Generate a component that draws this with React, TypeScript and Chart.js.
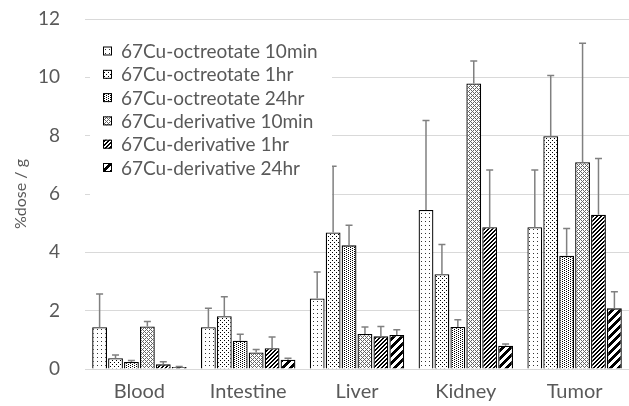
import React, { useEffect, useRef } from "react";
import { Chart, registerables } from "chart.js";

Chart.register(...registerables);

const categories = ["Blood", "Intestine", "Liver", "Kidney", "Tumor"];
const seriesLabels = [
  "67Cu-octreotate 10min",
  "67Cu-octreotate 1hr",
  "67Cu-octreotate 24hr",
  "67Cu-derivative 10min",
  "67Cu-derivative 1hr",
  "67Cu-derivative 24hr",
];
const oct10 = [1.43, 1.43, 2.42, 5.45, 4.86];
const oct10Err = [1.14, 0.65, 0.91, 3.07, 1.96];
const oct1h = [0.37, 1.81, 4.68, 3.25, 7.98];
const oct1hErr = [0.11, 0.67, 2.27, 1.02, 2.08];
const oct24 = [0.24, 0.97, 4.24, 1.44, 3.88];
const oct24Err = [0.05, 0.22, 0.69, 0.25, 0.94];
const der10 = [1.46, 0.57, 1.2, 9.79, 7.09];
const der10Err = [0.17, 0.1, 0.24, 0.77, 4.08];
const der1h = [0.16, 0.71, 1.12, 4.86, 5.29];
const der1hErr = [0.09, 0.39, 0.34, 1.96, 1.93];
const der24 = [0.07, 0.32, 1.17, 0.8, 2.08];
const der24Err = [0.02, 0.05, 0.18, 0.06, 0.57];
const yTicks = [0, 2, 4, 6, 8, 10, 12];

const values = [oct10, oct1h, oct24, der10, der1h, der24];
const errors = [oct10Err, oct1hErr, oct24Err, der10Err, der1hErr, der24Err];

const GRAY = "#595959";
const FONT = "Lato";

function makePattern(w: number, h: number, on: (x: number, y: number) => boolean, color = "#000") {
  const c = document.createElement("canvas");
  c.width = w;
  c.height = h;
  const g = c.getContext("2d")!;
  g.fillStyle = "#fff";
  g.fillRect(0, 0, w, h);
  g.fillStyle = color;
  for (let y = 0; y < h; y++) for (let x = 0; x < w; x++) if (on(x, y)) g.fillRect(x, y, 1, 1);
  const ctx = document.createElement("canvas").getContext("2d")!;
  return ctx.createPattern(c, "repeat") as CanvasPattern;
}

function buildPatterns() {
  return [
    makePattern(4, 4, (x, y) => x === 1 && y === 1, "#333"),
    makePattern(4, 4, (x, y) => (x === 0 && y === 0) || (x === 2 && y === 2)),
    makePattern(4, 2, (x, y) => (x === 0 && y === 0) || (x === 2 && y === 1)),
    makePattern(4, 4, (x, y) => (x + y) % 4 === 3 || ((x + y) % 4 === 1 && y % 2 === 0), "#666"),
    makePattern(4, 4, (x, y) => (x + y) % 4 < 2),
    makePattern(8, 8, (x, y) => (x + y) % 8 < 4),
  ];
}

const errorBarPlugin = {
  id: "errorBars",
  afterDatasetsDraw(chart: any) {
    const ctx = chart.ctx;
    const yScale = chart.scales.y;
    ctx.save();
    ctx.strokeStyle = "#808080";
    ctx.lineWidth = 1.5;
    chart.data.datasets.forEach((ds: any, i: number) => {
      const meta = chart.getDatasetMeta(i);
      meta.data.forEach((bar: any, j: number) => {
        const v = ds.data[j];
        const e = errors[i][j];
        const yTop = yScale.getPixelForValue(v + e);
        const yV = yScale.getPixelForValue(v);
        ctx.beginPath();
        ctx.moveTo(bar.x, yV);
        ctx.lineTo(bar.x, yTop);
        ctx.moveTo(bar.x - 3.5, yTop);
        ctx.lineTo(bar.x + 3.5, yTop);
        ctx.stroke();
      });
    });
    ctx.restore();
  },
};

const legendPlugin = {
  id: "customLegend",
  afterDraw(chart: any) {
    const ctx = chart.ctx;
    ctx.save();
    ctx.fillStyle = "#fff";
    ctx.fillRect(90, 30, 242, 172);
    ctx.font = `19px ${FONT}`;
    ctx.textBaseline = "middle";
    chart.data.datasets.forEach((ds: any, i: number) => {
      const cy = 51 + i * 23.3;
      ctx.fillStyle = ds.backgroundColor;
      ctx.fillRect(103, cy - 4.5, 9, 9);
      ctx.strokeStyle = "#000";
      ctx.lineWidth = 1;
      ctx.strokeRect(103.5, cy - 4, 8, 8);
      ctx.fillStyle = GRAY;
      ctx.fillText(ds.label, 121, cy + 1);
    });
    ctx.restore();
  },
};

export default function App() {
  const ref = useRef<HTMLCanvasElement>(null);
  useEffect(() => {
    document.body.style.margin = "0";
    const patterns = buildPatterns();
    const chart = new Chart(ref.current!, {
      type: "bar",
      data: {
        labels: categories,
        datasets: seriesLabels.map((label, i) => ({
          label,
          data: values[i],
          backgroundColor: patterns[i] as any,
          borderColor: "#000",
          borderWidth: 1.3,
          categoryPercentage: 0.878,
          barPercentage: 0.93,
        })),
      },
      options: {
        responsive: false,
        animation: false,
        layout: { padding: { top: 19, right: -9, left: 0, bottom: 0 } },
        plugins: { legend: { display: false }, tooltip: { enabled: false } },
        scales: {
          x: {
            grid: { display: false, drawTicks: false },
            border: { color: "#d9d9d9", width: 1 },
            ticks: { color: GRAY, font: { family: FONT, size: 20 }, padding: 11 },
            afterFit: (s: any) => {
              s.height = 37;
            },
          },
          y: {
            min: 0,
            max: 12,
            afterBuildTicks: (s: any) => {
              s.ticks = yTicks.map((v) => ({ value: v }));
            },
            grid: { color: "#d9d9d9", drawTicks: false, lineWidth: 1 },
            border: { display: false },
            ticks: { color: GRAY, font: { family: FONT, size: 19 }, padding: 25 },
            title: {
              display: true,
              text: "%dose / g",
              color: GRAY,
              font: { family: FONT, size: 16 },
              padding: { top: 11, bottom: 0 },
            },
            afterFit: (s: any) => {
              s.width = 85;
              s.paddingTop = 0;
              s.paddingBottom = 0;
            },
          },
        },
      },
      plugins: [errorBarPlugin, legendPlugin],
    });
    return () => chart.destroy();
  }, []);
  return <canvas ref={ref} width={629} height={406} style={{ display: "block" }} />;
}
